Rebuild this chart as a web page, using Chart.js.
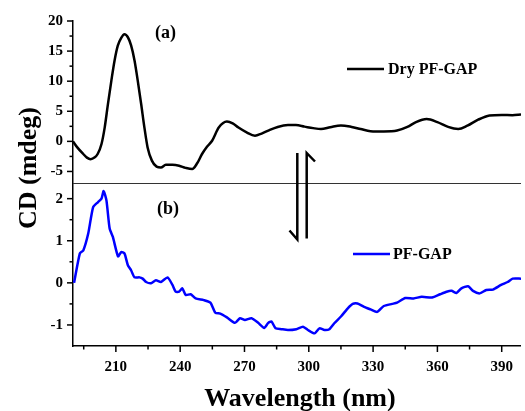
<!DOCTYPE html>
<html>
<head>
<meta charset="utf-8">
<title>CD spectra</title>
<script src="https://cdn.jsdelivr.net/npm/chart.js@4.4.1/dist/chart.umd.min.js"></script>
<style>
  body { margin: 0; background: #fff; }
  #wrap { width: 525px; height: 411px; }
</style>
</head>
<body>
<div id="wrap"><canvas id="cdChart" width="525" height="411"></canvas></div>
<script>
// ---data---
var dryWl = [190, 192, 194.8, 196.5, 198.2, 200, 201.5, 203.3, 204.8, 206.3, 207.9, 209.4, 210.9, 212.5, 214, 215.6, 217.1, 218.7, 220.2, 221.8, 223.3, 224.8, 226.8, 229, 231, 233.3, 236.4, 239.5, 242.5, 245.6, 248, 250.2, 252.5, 254.9, 258, 261.8, 264.5, 267.2, 271, 274.9, 278, 281.1, 285.5, 290.3, 294, 298, 302, 305.7, 310, 315, 320, 324.2, 328.8, 335, 341.2, 346, 350, 355, 360, 365, 369.7, 374, 379, 384.3, 390, 395, 399];
var dryCd = [0, -1.0, -2.1, -2.7, -2.95, -2.7, -2.1, -0.43, 2.33, 6.2, 10.1, 13.45, 15.9, 17.2, 17.8, 17.3, 15.95, 13.45, 10.1, 6.2, 2.33, -1.0, -3.2, -4.2, -4.35, -3.9, -3.9, -4.05, -4.4, -4.6, -3.6, -2.1, -0.9, 0.1, 2.3, 3.3, 3.0, 2.3, 1.5, 0.95, 1.3, 1.8, 2.4, 2.7, 2.7, 2.45, 2.2, 2.05, 2.35, 2.65, 2.4, 2.05, 1.7, 1.65, 1.8, 2.4, 3.2, 3.7, 3.2, 2.4, 2.05, 2.6, 3.6, 4.3, 4.4, 4.35, 4.45];

var pfWl = [190.5, 193.2, 194.8, 197.1, 199.4, 201.7, 203.3, 204.3, 205.6, 207.1, 208.6, 211, 212.5, 214, 215.6, 217.1, 218.7, 221, 222.5, 224.1, 226.4, 228.7, 231, 234.1, 236.4, 237.9, 239.5, 241, 242.6, 244.9, 247.2, 251, 254.1, 256.4, 258.7, 261.8, 265.6, 267.9, 270.2, 273.3, 276.4, 279.2, 281.1, 282.6, 284.5, 287.2, 290.3, 294.2, 297.3, 299.6, 302.7, 305, 307.3, 309.6, 311.9, 315, 318.1, 320.5, 322.7, 325.8, 328.8, 331.9, 335, 338.9, 341.2, 345, 348.9, 352.7, 357.5, 361.3, 364.3, 366.6, 368.9, 371.2, 374.3, 376.6, 379.7, 382.8, 385.9, 389.7, 392.8, 395.1, 399];
var pfCd = [0, 0.7, 0.77, 1.17, 1.8, 1.92, 2.0, 2.18, 1.96, 1.29, 1.09, 0.63, 0.73, 0.7, 0.42, 0.3, 0.13, 0.13, 0.1, 0.02, -0.01, 0.06, 0.02, 0.13, -0.05, -0.21, -0.21, -0.13, -0.29, -0.27, -0.37, -0.41, -0.47, -0.71, -0.73, -0.82, -0.95, -0.84, -0.88, -0.84, -0.95, -1.07, -0.95, -0.92, -1.08, -1.1, -1.12, -1.1, -1.04, -1.12, -1.2, -1.08, -1.12, -1.1, -0.96, -0.8, -0.61, -0.5, -0.49, -0.57, -0.63, -0.69, -0.55, -0.5, -0.47, -0.36, -0.37, -0.33, -0.35, -0.27, -0.21, -0.19, -0.24, -0.13, -0.08, -0.19, -0.25, -0.17, -0.16, -0.05, 0.02, 0.1, 0.1];

var xTicks = [210, 240, 270, 300, 330, 360, 390];
var xMinor = [195, 225, 255, 285, 315, 345, 375];
var yTopTicks = [-5, 0, 5, 10, 15, 20];
var yTopMinor = [-2.5, 2.5, 7.5, 12.5, 17.5];
var yBotTicks = [-1, 0, 1, 2];
var yBotMinor = [-0.5, 0.5, 1.5];

var serif = "'Liberation Serif', 'Times New Roman', serif";

function pairs(xs, ys) {
  return xs.map(function (x, i) { return { x: x, y: ys[i] }; });
}
function fixedTicks(list) {
  return function (scale) {
    scale.ticks = list.map(function (v) { return { value: v }; });
  };
}

// ---extras: tick marks, separator, labels, arrows---
var extras = {
  id: "extras",
  afterDraw: function (chart) {
    var ctx = chart.ctx;
    var area = chart.chartArea;
    var sx = chart.scales.x, yt = chart.scales.yTop, yb = chart.scales.yBot;
    ctx.save();
    ctx.strokeStyle = "#000";
    ctx.lineWidth = 1.5;

    function xTick(v, len) {
      var p = sx.getPixelForValue(v);
      ctx.beginPath(); ctx.moveTo(p, area.bottom); ctx.lineTo(p, area.bottom + len); ctx.stroke();
    }
    function yTick(s, v, len) {
      var p = s.getPixelForValue(v);
      ctx.beginPath(); ctx.moveTo(area.left, p); ctx.lineTo(area.left - len, p); ctx.stroke();
    }
    xTicks.forEach(function (v) { xTick(v, 6); });
    xMinor.forEach(function (v) { xTick(v, 3.5); });
    yTopTicks.forEach(function (v) { yTick(yt, v, 6); });
    yTopMinor.forEach(function (v) { yTick(yt, v, 3.5); });
    yBotTicks.forEach(function (v) { yTick(yb, v, 6); });
    yBotMinor.forEach(function (v) { yTick(yb, v, 3.5); });

    // separator between panels
    ctx.strokeStyle = "#333";
    ctx.lineWidth = 1.2;
    ctx.beginPath(); ctx.moveTo(area.left, yt.bottom); ctx.lineTo(area.right, yt.bottom); ctx.stroke();

    // panel letters
    ctx.fillStyle = "#000";
    ctx.font = "bold 18px " + serif;
    ctx.textBaseline = "middle";
    ctx.textAlign = "left";
    ctx.fillText("(a)", 155, 33);
    ctx.fillText("(b)", 157, 209);

    // legends
    ctx.font = "bold 16px " + serif;
    ctx.lineWidth = 2.5;
    ctx.strokeStyle = "#000";
    ctx.beginPath(); ctx.moveTo(347, 69); ctx.lineTo(384, 69); ctx.stroke();
    ctx.fillText("Dry PF-GAP", 388, 70);
    ctx.strokeStyle = "#0000ff";
    ctx.beginPath(); ctx.moveTo(353, 254); ctx.lineTo(390, 254); ctx.stroke();
    ctx.fillText("PF-GAP", 393, 255);

    // equilibrium arrows
    ctx.strokeStyle = "#000";
    ctx.lineWidth = 2.5;
    ctx.beginPath();
    ctx.moveTo(297.3, 153); ctx.lineTo(297.3, 239.5); ctx.lineTo(289.5, 230.5);
    ctx.stroke();
    ctx.beginPath();
    ctx.moveTo(306.7, 238.5); ctx.lineTo(306.7, 153); ctx.lineTo(315, 161.5);
    ctx.stroke();

    // axis titles
    ctx.font = "bold 26px " + serif;
    ctx.textAlign = "center";
    ctx.textBaseline = "alphabetic";
    ctx.fillText("Wavelength (nm)", 300, 406);
    ctx.translate(36, 168);
    ctx.rotate(-Math.PI / 2);
    ctx.fillText("CD (mdeg)", 0, 0);
    ctx.restore();
  }
};

var ctxC = document.getElementById("cdChart").getContext("2d");
var cdChart = new Chart(ctxC, {
  type: "line",
  data: {
    datasets: [
      {
        label: "Dry PF-GAP",
        data: pairs(dryWl, dryCd),
        yAxisID: "yTop",
        borderColor: "#000",
        borderWidth: 2.5,
        pointRadius: 0,
        cubicInterpolationMode: "monotone",
        fill: false,
      },
      {
        label: "PF-GAP",
        data: pairs(pfWl, pfCd),
        yAxisID: "yBot",
        borderColor: "#0000ff",
        borderWidth: 2.5,
        pointRadius: 0,
        tension: 0.2,
        fill: false,
      },
    ],
  },
  options: {
    responsive: false,
    animation: false,
    layout: { padding: { top: 21, right: 1, left: 0, bottom: 0 } },
    plugins: { legend: { display: false }, tooltip: { enabled: false } },
    scales: {
      x: {
        type: "linear",
        position: "bottom",
        min: 190,
        max: 399,
        afterBuildTicks: fixedTicks(xTicks),
        afterFit: function (s) { s.height = 65; },
        grid: { display: false, drawTicks: false },
        border: { display: true, color: "#000", width: 1.5 },
        ticks: {
          autoSkip: false,
          maxRotation: 0,
          padding: 12,
          color: "#000",
          font: { family: serif, size: 15, weight: "bold" },
        },
      },
      yBot: {
        type: "linear",
        position: "left",
        stack: "panels",
        stackWeight: 1,
        min: -1.5,
        max: 2.36,
        afterBuildTicks: fixedTicks(yBotTicks),
        afterFit: function (s) { s.width = 73; },
        grid: { display: false, drawTicks: false },
        border: { display: true, color: "#000", width: 1.5 },
        ticks: {
          autoSkip: false,
          padding: 10,
          color: "#000",
          font: { family: serif, size: 15, weight: "bold" },
        },
      },
      yTop: {
        type: "linear",
        position: "left",
        stack: "panels",
        stackWeight: 1,
        min: -7,
        max: 20,
        afterBuildTicks: fixedTicks(yTopTicks),
        afterFit: function (s) { s.width = 73; },
        grid: { display: false, drawTicks: false },
        border: { display: true, color: "#000", width: 1.5 },
        ticks: {
          autoSkip: false,
          padding: 10,
          color: "#000",
          font: { family: serif, size: 15, weight: "bold" },
        },
      },
    },
  },
  plugins: [extras],
});
</script>
</body>
</html>
